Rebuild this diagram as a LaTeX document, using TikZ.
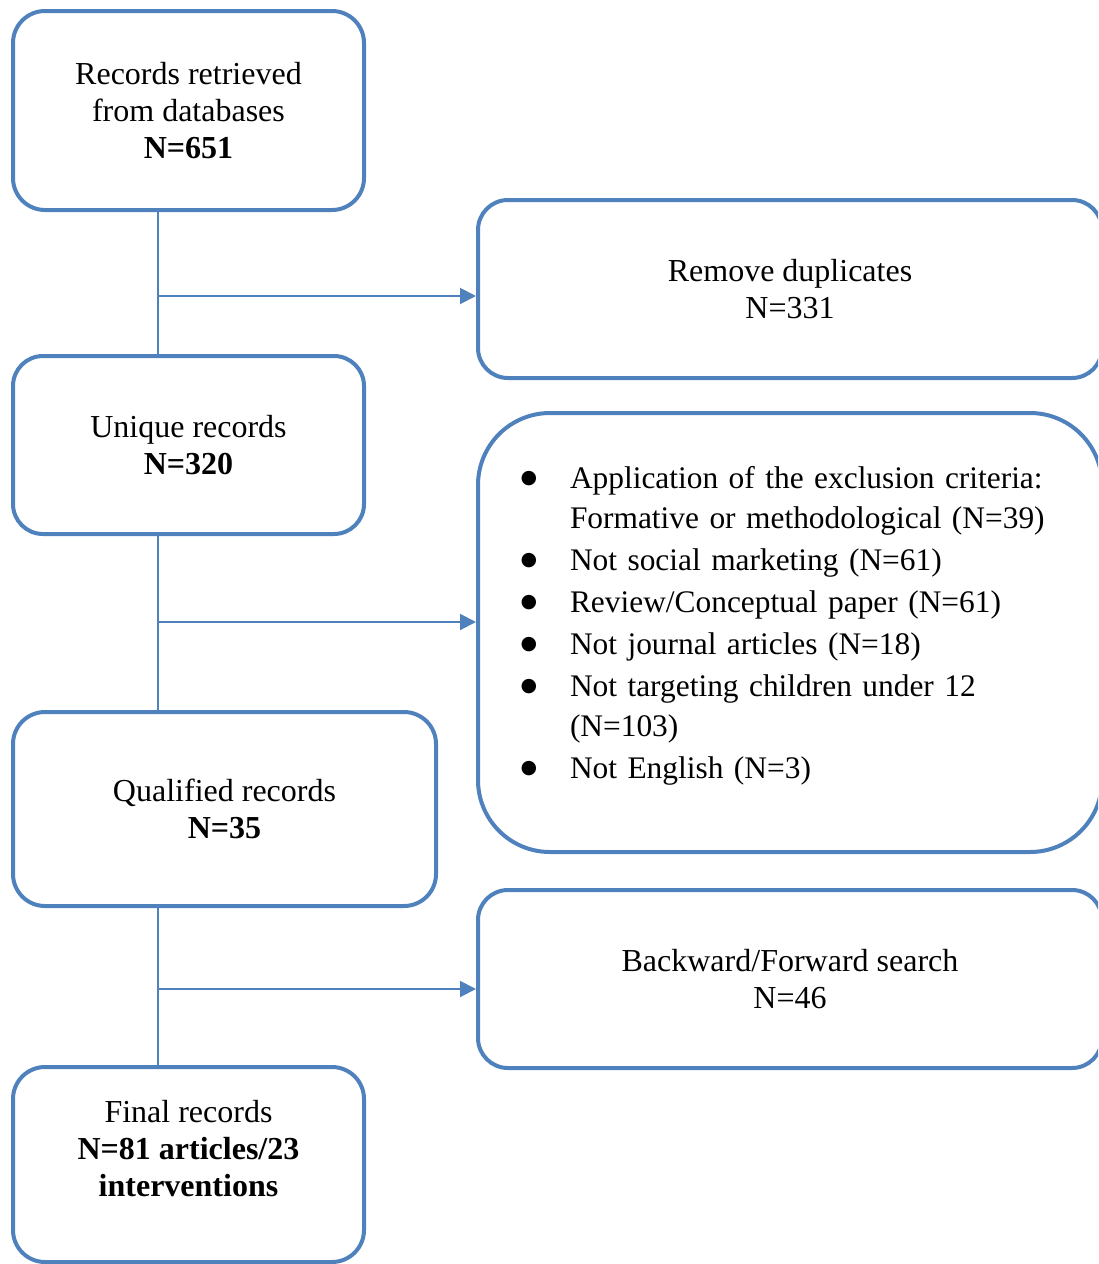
\documentclass[tikz,border=0pt]{standalone}
\usepackage{fontspec}
\setmainfont{Liberation Serif}
\newfontfamily\dotfont{DejaVu Sans}
\usepackage{xcolor}
\usepackage{tikz}
\usetikzlibrary{arrows.meta}

\definecolor{boxblue}{HTML}{4F81BD}
\newcommand{\bigbullet}{\makebox[6pt]{\raisebox{2.5pt}{\fontsize{9.5}{10}\dotfont ●}}}

\begin{document}
\begin{tikzpicture}[
x=0.5pt, y=-0.5pt,
box/.style={rectangle, draw=boxblue, fill=white, line width=2pt, rounded corners=16pt, minimum width=175.5pt, minimum height=89pt, align=center, font=\fontsize{16}{18.5}\selectfont},
widebox/.style={box, minimum width=312pt, rounded corners=15pt},
link/.style={draw=boxblue, line width=1pt},
arrow/.style={link, -{Triangle[length=8pt,width=8pt]}}
]
\useasboundingbox (0,0) rectangle (1098,1264);
\clip (0,0) rectangle (1098,1264);

\node[box, minimum height=99.5pt](rec) at (188.5,110.5){Records retrieved\\from databases\\\textbf{N=651}};
\node[widebox](dup) at (790,289){Remove duplicates\\N=331};
\node[box, rounded corners=15pt](uniq) at (188.5,445){Unique records\\\textbf{N=320}};
\node[widebox, minimum height=219.5pt, rounded corners=36pt, text width=267pt, align=left, font=\fontsize{15.7}{20}\selectfont](excl) at (790,632.5){%
\begin{tabular}{@{}l@{\hspace{17.5pt}}l@{}}
\bigbullet & Application of the exclusion criteria:\\
 & Formative or methodological (N=39)\\[1pt]
\bigbullet & Not social marketing (N=61)\\[1pt]
\bigbullet & Review/Conceptual paper (N=61)\\[1pt]
\bigbullet & Not journal articles (N=18)\\[1pt]
\bigbullet & Not targeting children under 12\\
 & (N=103)\\[1pt]
\bigbullet & Not English (N=3)\\[7pt]
\end{tabular}};
\node[box, minimum width=211.5pt, minimum height=97pt](qual) at (224.5,809){Qualified records\\\textbf{N=35}};
\node[widebox](back) at (790,979){Backward/Forward search\\N=46};
\node[box, minimum height=97.5pt, text depth=16pt](final) at (188.5,1164.5){Final records\\\textbf{N=81 articles/23}\\\textbf{interventions}};

% junctions on the main line
\coordinate (j1) at (158,296);
\coordinate (j2) at (158,622);
\coordinate (j3) at (158,989);

\draw[link] (j1 |- rec.south) -- (j1 |- uniq.north);
\draw[link] (j2 |- uniq.south) -- (j2 |- qual.north);
\draw[link] (j3 |- qual.south) -- (j3 |- final.north);

\draw[arrow] (j1) -- (j1 -| dup.west);
\draw[arrow] (j2) -- (j2 -| excl.west);
\draw[arrow] (j3) -- (j3 -| back.west);

\end{tikzpicture}
\end{document}
